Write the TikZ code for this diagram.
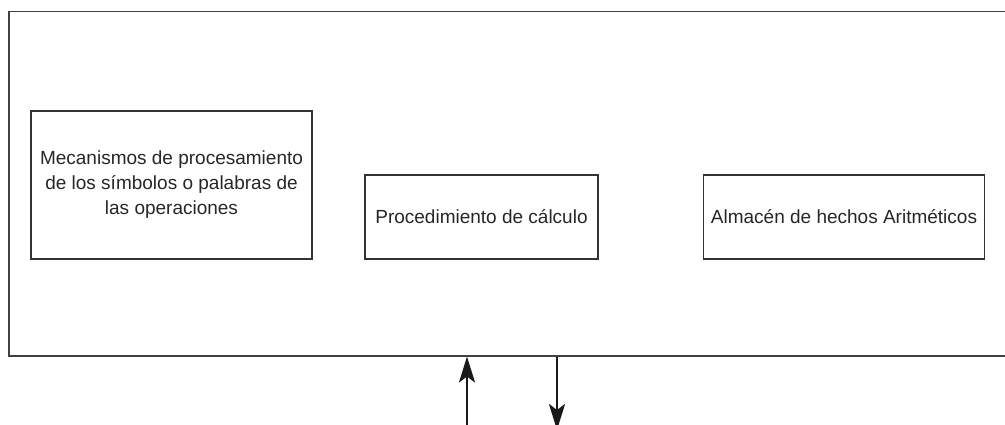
\documentclass[tikz,border=0pt]{standalone}
\usepackage{fontspec}
\setmainfont{Liberation Sans}
\usetikzlibrary{arrows.meta}
\begin{document}
\begin{tikzpicture}[x=1pt,y=-1pt,
  box/.style={draw=black!80,line width=1.1pt,inner sep=0pt,align=center,
    font=\fontsize{19}{25}\selectfont,text=black!85},
  link/.style={line width=2.6pt,draw=black!90,-{Stealth[length=26pt,width=16pt,inset=6pt]}}]
\useasboundingbox (0,0) rectangle (1005,425);
\begin{scope}
\clip (0,0) rectangle (1005,425);
\node[draw=black!75,line width=1.5pt,minimum width=1010pt,minimum height=344pt,anchor=north west,inner sep=0pt] (outer) at (8,11) {};
\end{scope}
\node[box,minimum width=281pt,minimum height=148pt] (mec) at (171.5,185) {Mecanismos de procesamiento\\de los símbolos o palabras de\\las operaciones};
\node[box,minimum width=233pt,minimum height=84pt] (proc) at (481.5,217) {Procedimiento de cálculo};
\node[box,minimum width=281pt,minimum height=84pt] (alm) at (844,217) {Almacén de hechos Aritméticos};
\coordinate (inA) at (467,430);
\coordinate (outB) at (557,430);
\draw[link] (inA) -- (inA |- outer.south);
\draw[link] (outB |- outer.south) -- (outB);
\end{tikzpicture}
\end{document}
